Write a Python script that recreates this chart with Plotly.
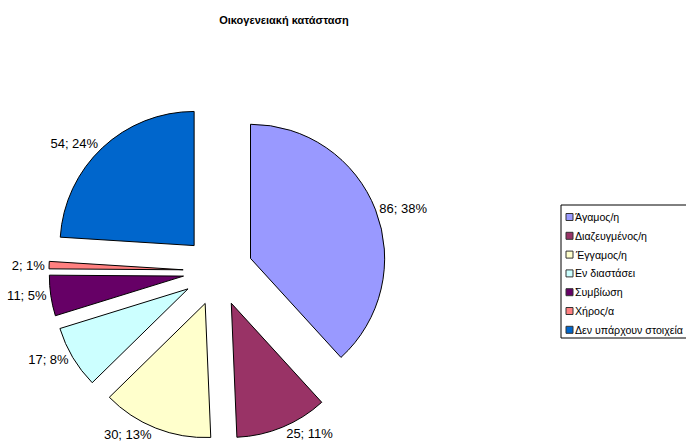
import plotly.graph_objects as go

# Οικογενειακή κατάσταση - counts per category
categories = ["Άγαμος/η", "Διαζευγμένος/η", "Έγγαμος/η", "Εν διαστάσει",
              "Συμβίωση", "Χήρος/α", "Δεν υπάρχουν στοιχεία"]
counts = [86, 25, 30, 17, 11, 2, 54]
colors = ["#9999FF", "#993366", "#FFFFCC", "#CCFFFF", "#660066", "#FF8080", "#0066CC"]

# figure is a bit wider than the window so the legend box runs off the right edge
W, H = 740, 447
FONT = "Liberation Sans, Arial"


def px(x):
    return x / W


def py(y):
    return 1 - y / H


fig = go.Figure(go.Pie(
    labels=categories,
    values=counts,
    sort=False,
    direction="clockwise",
    rotation=0,
    pull=0.26,
    marker=dict(colors=colors, line=dict(color="#000000", width=1)),
    textposition="outside",
    texttemplate="%{value}; %{percent:.0%}",
    textfont=dict(family=FONT, size=13, color="#000000"),
    domain=dict(x=[px(49), px(387)], y=[py(440), py(102)]),
    automargin=False,
    showlegend=False,
))

# Excel-style legend: framed box, small squares, text right next to them
shapes = [dict(type="rect", xref="paper", yref="paper",
               x0=px(561), x1=px(720), y0=py(338), y1=py(205),
               line=dict(color="#000000", width=1), fillcolor="white", layer="below")]
annotations = []
for i, (name, col) in enumerate(zip(categories, colors)):
    yc = 217 + 18.8 * i
    shapes.append(dict(type="rect", xref="paper", yref="paper",
                       x0=px(566), x1=px(573), y0=py(yc + 3.5), y1=py(yc - 3.5),
                       line=dict(color="#333333", width=1), fillcolor=col))
    annotations.append(dict(text=name, xref="paper", yref="paper",
                            x=px(573), y=py(yc), xanchor="left", yanchor="middle",
                            showarrow=False, font=dict(family=FONT, size=10.6, color="#000000")))

fig.update_layout(
    width=W, height=H,
    margin=dict(l=0, r=0, t=0, b=0),
    paper_bgcolor="white",
    font=dict(family=FONT, size=12, color="#000000"),
    title=dict(text="<b>Οικογενειακή κατάσταση</b>", x=px(284), xanchor="center",
               y=py(20), yanchor="middle", font=dict(size=11)),
    shapes=shapes,
    annotations=annotations,
)

fig.write_html(
    "out.html",
    post_script="document.body.style.margin='0';document.body.style.overflow='hidden';",
)
